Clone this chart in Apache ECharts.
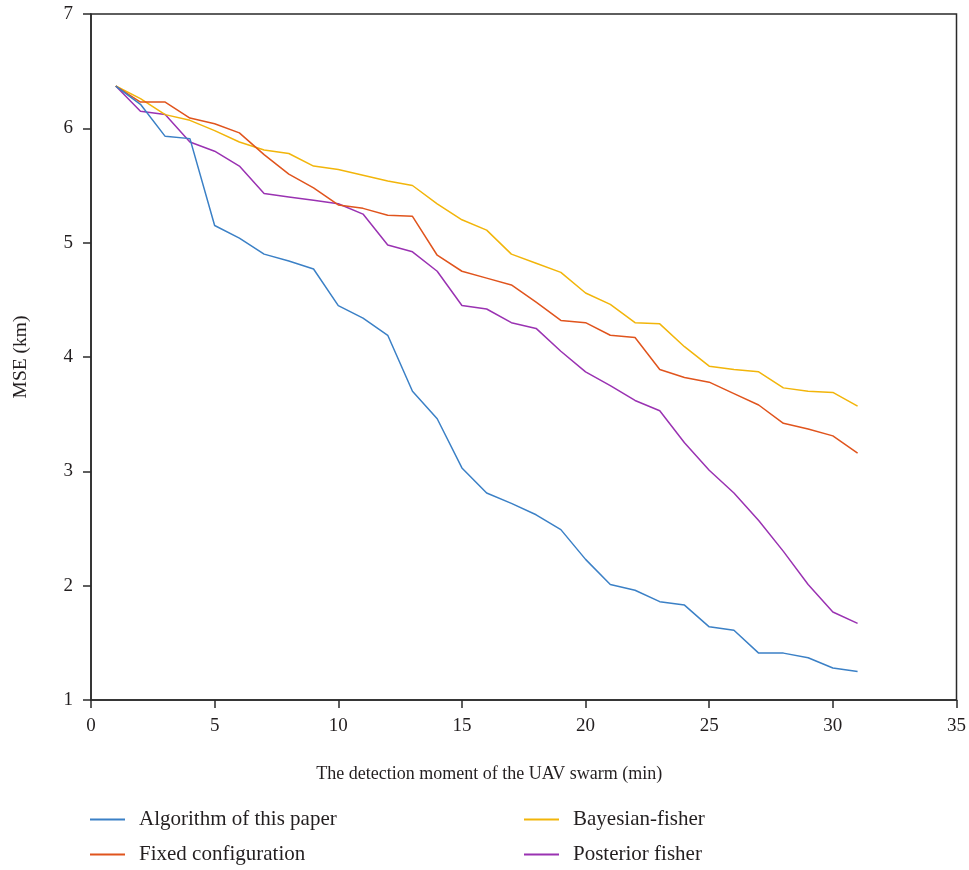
<!DOCTYPE html>
<html>
<head>
<meta charset="utf-8">
<script src="https://cdn.jsdelivr.net/npm/echarts@6/dist/echarts.min.js"></script>
<style>html,body{margin:0;padding:0;background:#fff}#c{width:969px;height:870px}</style>
</head>
<body>
<div id="c"></div>
<script>
const moments = [1,2,3,4,5,6,7,8,9,10,11,12,13,14,15,16,17,18,19,20,21,22,23,24,25,26,27,28,29,30,31];
const algorithmPaper = [6.37,6.21,5.93,5.91,5.15,5.04,4.90,4.84,4.77,4.45,4.34,4.19,3.70,3.46,3.03,2.81,2.72,2.62,2.49,2.23,2.01,1.96,1.86,1.83,1.64,1.61,1.41,1.41,1.37,1.28,1.25];
const fixedConfig = [6.37,6.23,6.23,6.09,6.04,5.96,5.77,5.60,5.48,5.33,5.30,5.24,5.23,4.89,4.75,4.69,4.63,4.48,4.32,4.30,4.19,4.17,3.89,3.82,3.78,3.68,3.58,3.42,3.37,3.31,3.16];
const bayesianFisher = [6.37,6.26,6.12,6.07,5.98,5.88,5.81,5.78,5.67,5.64,5.59,5.54,5.50,5.34,5.20,5.11,4.90,4.82,4.74,4.56,4.46,4.30,4.29,4.09,3.92,3.89,3.87,3.73,3.70,3.69,3.57];
const posteriorFisher = [6.37,6.15,6.12,5.88,5.80,5.67,5.43,5.40,5.37,5.34,5.25,4.98,4.92,4.75,4.45,4.42,4.30,4.25,4.05,3.87,3.75,3.62,3.53,3.25,3.01,2.81,2.57,2.30,2.01,1.77,1.67];
const seriesNames = ['Algorithm of this paper','Fixed configuration','Bayesian-fisher','Posterior fisher'];
const seriesColors = ['#3b80c6','#e0541d','#f2b50a','#9a32b2'];
const xTicks = [0,5,10,15,20,25,30,35];
const yTicks = [1,2,3,4,5,6,7];

const FONT = 'Liberation Serif';
const TXT = '#231f20';
const AX = '#2a2a2a';
const pair = arr => arr.map((v,i)=>[moments[i], v]);
const allData = [algorithmPaper, fixedConfig, bayesianFisher, posteriorFisher];

const chart = echarts.init(document.getElementById('c'), null, {renderer:'canvas'});
chart.setOption({
  animation:false,
  backgroundColor:'#fff',
  grid:{left:91,right:11,top:14,bottom:170,show:true,borderColor:AX,borderWidth:1.5,backgroundColor:'transparent'},
  xAxis:{type:'value',min:xTicks[0],max:xTicks[xTicks.length-1],interval:5,
    name:'The detection moment of the UAV swarm (min)',nameLocation:'middle',nameGap:65,
    nameTextStyle:{fontFamily:FONT,fontSize:18,color:TXT,padding:[0,69,0,0]},
    axisLine:{show:true,lineStyle:{color:AX,width:1.5}},
    axisTick:{show:true,inside:false,length:8,lineStyle:{color:AX,width:1.5}},
    axisLabel:{fontFamily:FONT,fontSize:19,color:TXT,margin:17},
    splitLine:{show:false}},
  yAxis:{type:'value',min:yTicks[0],max:yTicks[yTicks.length-1],interval:1,
    name:'MSE (km)',nameLocation:'middle',nameGap:60,nameRotate:90,
    nameTextStyle:{fontFamily:FONT,fontSize:19.5,color:TXT},
    axisLine:{show:true,lineStyle:{color:AX,width:1.5}},
    axisTick:{show:true,inside:false,length:8,lineStyle:{color:AX,width:1.5}},
    axisLabel:{fontFamily:FONT,fontSize:19,color:TXT,margin:18},
    splitLine:{show:false}},
  legend:[
    {left:90,top:809,padding:0,orient:'vertical',itemGap:14,itemWidth:35,itemHeight:2,icon:'rect',
     textStyle:{fontFamily:FONT,fontSize:21,color:TXT,padding:[0,0,0,9]},data:[seriesNames[0],seriesNames[1]]},
    {left:524,top:809,padding:0,orient:'vertical',itemGap:14,itemWidth:35,itemHeight:2,icon:'rect',
     textStyle:{fontFamily:FONT,fontSize:21,color:TXT,padding:[0,0,0,9]},data:[seriesNames[2],seriesNames[3]]}
  ],
  series: seriesNames.map((n,i)=>({
    name:n,type:'line',data:pair(allData[i]),symbol:'none',showSymbol:false,
    color:seriesColors[i],lineStyle:{color:seriesColors[i],width:1.5},z:10-i
  }))
});
</script>
</body>
</html>
